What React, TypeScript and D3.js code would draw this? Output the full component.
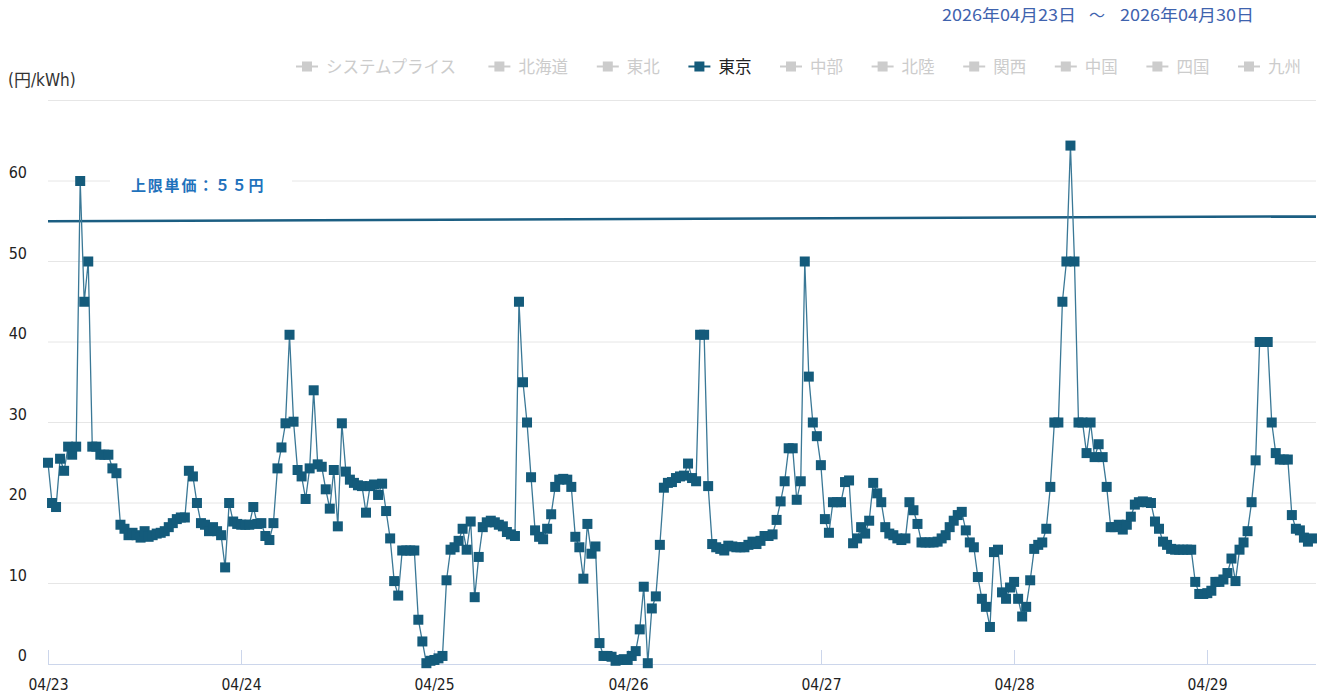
import React from 'react'
import * as d3 from 'd3'

const dayLabels = ['04/23', '04/24', '04/25', '04/26', '04/27', '04/28', '04/29']

// 30-minute prices for 東京, one array per day
const day0423 = [25, 20, 19.5, 25.5, 24, 27, 26, 27, 60, 45, 50, 27, 27, 26, 26, 26, 24.3, 23.7, 17.3, 16.8, 16, 16.3, 16, 15.7, 16.5, 15.8, 16, 16.2, 16.3, 16.5, 17, 17.5, 18, 18.2, 18.2, 24, 23.3, 20, 17.5, 17.3, 16.5, 17, 16.5, 16, 12, 20, 17.7, 17.4]
const day0424 = [17.3, 17.3, 17.3, 19.5, 17.4, 17.5, 15.9, 15.4, 17.5, 24.3, 26.9, 29.9, 40.9, 30.1, 24.1, 23.3, 20.5, 24.3, 34, 24.8, 24.5, 21.7, 19.3, 24.1, 17.1, 29.9, 23.9, 22.9, 22.5, 22.2, 22.1, 18.8, 22.1, 22.3, 21, 22.4, 19, 15.6, 10.3, 8.5, 14.1, 14.1, 14.1, 14.1, 5.5, 2.8, 0.1, 0.4]
const day0425 = [0.5, 0.7, 1.0, 10.4, 14.2, 14.5, 15.3, 16.8, 14.2, 17.7, 8.3, 13.3, 17, 17.6, 17.8, 17.6, 17.3, 17.1, 16.4, 16.1, 15.9, 45, 35, 30, 23.2, 16.6, 15.8, 15.5, 16.8, 18.6, 22, 22.9, 23, 22.9, 22, 15.8, 14.5, 10.6, 17.4, 13.7, 14.6, 2.6, 1.0, 1.0, 0.9, 0.4, 0.5, 0.6]
const day0426 = [0.5, 1.0, 1.6, 4.3, 9.6, 0.1, 6.9, 8.4, 14.8, 21.9, 22.5, 22.6, 23.1, 23.3, 23.4, 24.9, 23.1, 22.7, 40.9, 40.9, 22.1, 14.9, 14.5, 14.3, 14.1, 14.7, 14.6, 14.5, 14.5, 14.5, 14.8, 15.2, 14.9, 15.3, 15.9, 15.9, 16.1, 17.9, 20.2, 22.7, 26.8, 26.8, 20.4, 22.7, 50, 35.7, 30, 28.3]
const day0427 = [24.7, 18, 16.3, 20.1, 20.1, 20.1, 22.6, 22.8, 15, 15.6, 17, 16.2, 17.8, 22.5, 21.2, 20.1, 17, 16.2, 16, 15.6, 15.4, 15.6, 20.1, 19.1, 17.4, 15.1, 15.1, 15.1, 15.1, 15.2, 15.6, 16, 17, 17.8, 18.5, 18.9, 16.6, 15.1, 14.5, 10.8, 8.1, 7.1, 4.6, 13.9, 14.2, 8.9, 8.1, 9.5]
const day0428 = [10.2, 8.1, 5.9, 7.1, 10.4, 14.3, 14.8, 15.1, 16.8, 22, 30, 30, 45, 50, 64.4, 50, 30, 30, 26.2, 30, 25.7, 27.3, 25.7, 22, 17, 17, 17.3, 16.7, 17.3, 18.3, 19.8, 20.1, 20.2, 20.1, 20, 17.7, 16.8, 15.2, 14.8, 14.3, 14.2, 14.2, 14.2, 14.2, 14.2, 10.2, 8.7, 8.7]
const day0429 = [8.8, 9.1, 10.2, 10.2, 10.5, 11.3, 13.1, 10.3, 14.2, 15.1, 16.5, 20.1, 25.3, 40, 40, 40, 30, 26.2, 25.4, 25.4, 25.4, 18.5, 16.8, 16.6, 15.7, 15.2, 15.6]

const tokyo = [...day0423, ...day0424, ...day0425, ...day0426, ...day0427, ...day0428, ...day0429]

const yTicks = [0, 10, 20, 30, 40, 50, 60, 70]
const yLabelMax = 60
const legendNames = ['システムプライス', '北海道', '東北', '東京', '中部', '北陸', '関西', '中国', '四国', '九州']
const activeName = '東京'
const capValues = [55, 55.6]
const capLabel = '上限単価：５５円'
const dateFrom = '2026年04月23日'
const dateTo = '2026年04月30日'
const unitLabel = '(円/kWh)'
const slotsPerDay = 48

const axisFont = "'Liberation Sans Narrow', 'DejaVu Sans Condensed', 'Roboto Condensed', Roboto, 'Noto Sans CJK JP', sans-serif"
const jpFont = "'Noto Sans CJK JP', 'Noto Sans', sans-serif"
const seriesColor = '#145b7b'

export default function App() {
  const width = 1319
  const height = 694
  const left = 48
  const right = 1316
  const bottom = 664
  const top = 100.5

  const x = d3.scaleLinear().domain([0, 315]).range([left, right])
  const y = d3.scaleLinear().domain([0, 70]).range([bottom, top])

  const line = d3
    .line<number>()
    .x((d, i) => x(i))
    .y(d => y(d))

  const markerSize = 10
  const legendStart = 296
  const charW = 16.8

  let legendX = legendStart
  const legendItems = legendNames.map(name => {
    const item = { name, x: legendX }
    legendX += 22 + 8 + name.length * charW + 28
    return item
  })

  return (
    <svg
      width={width}
      height={height}
      style={{ position: 'absolute', left: 0, top: 0, background: '#fff' }}
    >
      <g fontFamily={jpFont} fontSize={16} fill="#3f63ae">
        <text x={942} y={21} textLength={134} lengthAdjust="spacingAndGlyphs">
          {dateFrom}
        </text>
        <text x={1089} y={21}>～</text>
        <text x={1120} y={21} textLength={134} lengthAdjust="spacingAndGlyphs">
          {dateTo}
        </text>
      </g>

      {legendItems.map(item => {
        const active = item.name === activeName
        const color = active ? seriesColor : '#cccccc'
        return (
          <g key={item.name}>
            <line x1={item.x} x2={item.x + 22} y1={66.5} y2={66.5} stroke={color} strokeWidth={2} />
            <rect x={item.x + 6} y={61.5} width={10} height={10} fill={color} />
            <text
              x={item.x + 30}
              y={72.5}
              fontFamily={jpFont}
              fontSize={16.5}
              fill={active ? '#222' : '#cccccc'}
            >
              {item.name}
            </text>
          </g>
        )
      })}

      <text x={8} y={86} fontFamily={axisFont} fontSize={17} fill="#333">
        {unitLabel}
      </text>

      {yTicks
        .filter(t => t > 0)
        .map(t => (
          <line key={t} x1={left} x2={right} y1={y(t)} y2={y(t)} stroke="#e6e6e6" strokeWidth={1} />
        ))}

      {yTicks
        .filter(t => t <= yLabelMax)
        .map(t => (
          <text
            key={t}
            x={27}
            y={y(t) - 3}
            textAnchor="end"
            fontFamily={axisFont}
            fontSize={16}
            fill="#222"
          >
            {t}
          </text>
        ))}

      <line x1={left} x2={right} y1={bottom + 0.5} y2={bottom + 0.5} stroke="#ccd6eb" strokeWidth={1} />
      {dayLabels.map((d, i) => {
        const tx = Math.round(x(i * slotsPerDay)) + 0.5
        return (
          <g key={d}>
            <line x1={tx} x2={tx} y1={bottom} y2={bottom - 14} stroke="#ccd6eb" strokeWidth={1} />
            <text
              x={tx}
              y={690}
              textAnchor="middle"
              fontFamily={axisFont}
              fontSize={15.5}
              fill="#222"
            >
              {d}
            </text>
          </g>
        )
      })}

      <line
        x1={left}
        x2={right}
        y1={y(capValues[0])}
        y2={y(capValues[1])}
        stroke="#1b5e82"
        strokeWidth={2.5}
      />
      <rect x={110} y={171} width={182} height={26} fill="#fff" />
      <text
        x={131}
        y={190.5}
        fontFamily={jpFont}
        fontSize={15}
        fontWeight="bold"
        letterSpacing={1.8}
        fill="#1f72bc"
      >
        {capLabel}
      </text>

      <path d={line(tokyo) || ''} fill="none" stroke="#3a7896" strokeWidth={1.3} />
      {tokyo.map((v, i) => (
        <rect
          key={i}
          x={x(i) - markerSize / 2}
          y={y(v) - markerSize / 2}
          width={markerSize}
          height={markerSize}
          fill={seriesColor}
        />
      ))}
    </svg>
  )
}
